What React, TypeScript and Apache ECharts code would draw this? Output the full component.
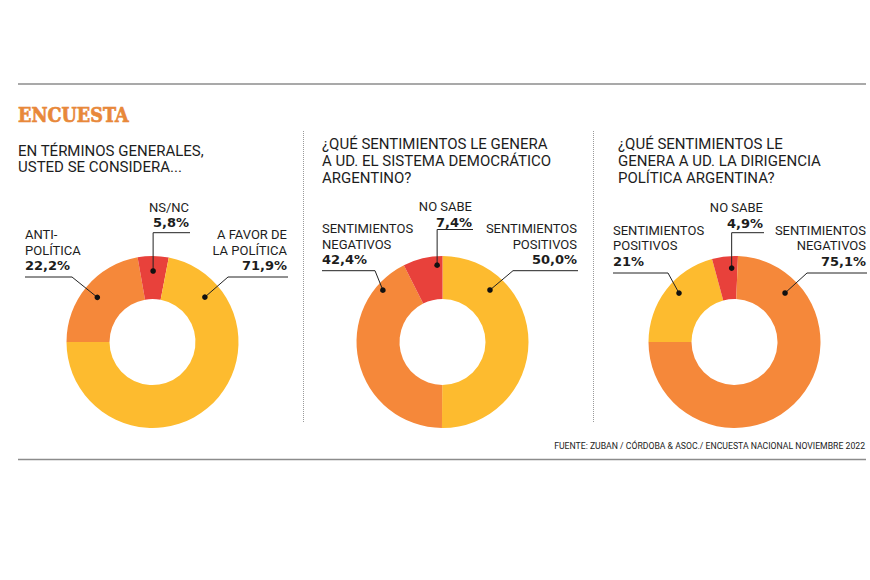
import React, { useEffect, useRef } from "react";
import * as echarts from "echarts";

// ---------- data ----------
const chart1Names = ["ANTI-\nPOLÍTICA", "NS/NC", "A FAVOR DE\nLA POLÍTICA"];
const chart1Values = [22.2, 5.8, 71.9];
const chart1ValueLabels = ["22,2%", "5,8%", "71,9%"];

const chart2Names = ["SENTIMIENTOS\nPOSITIVOS", "SENTIMIENTOS\nNEGATIVOS", "NO SABE"];
const chart2Values = [50.0, 42.4, 7.4];
const chart2ValueLabels = ["50,0%", "42,4%", "7,4%"];

const chart3Names = ["SENTIMIENTOS\nPOSITIVOS", "NO SABE", "SENTIMIENTOS\nNEGATIVOS"];
const chart3Values = [21, 4.9, 75.1];
const chart3ValueLabels = ["21%", "4,9%", "75,1%"];

const titles = [
  "EN TÉRMINOS GENERALES,\nUSTED SE CONSIDERA...",
  "¿QUÉ SENTIMIENTOS LE GENERA\nA UD. EL SISTEMA DEMOCRÁTICO\nARGENTINO?",
  "¿QUÉ SENTIMIENTOS LE\nGENERA A UD. LA DIRIGENCIA\nPOLÍTICA ARGENTINA?",
];
const heading = "ENCUESTA";
const source = "FUENTE: ZUBAN / CÓRDOBA & ASOC./ ENCUESTA NACIONAL NOVIEMBRE 2022";

// ---------- styles ----------
const YELLOW = "#FDBB2F";
const ORANGE = "#F5883A";
const RED = "#E8413B";
const INK = "#1d1d1d";

const chart1Colors = [ORANGE, RED, YELLOW];
const chart2Colors = [YELLOW, ORANGE, RED];
const chart3Colors = [YELLOW, RED, ORANGE];

// ---------- layout ----------
type LabelLayout = {
  align: "left" | "right";
  x: number; // text anchor x
  valueY: number; // center of value line
  lineY: number; // underline y
  inner: number | null; // inner end of underline (elbow); null => vertical drop at dot x
  outer: number; // outer end of underline
  theta: number; // dot angle (deg, clockwise from top)
  r: number; // dot radius from centre
};

const pies = [
  {
    center: [152.5, 342],
    startAngle: 180,
    names: chart1Names,
    values: chart1Values,
    valueLabels: chart1ValueLabels,
    colors: chart1Colors,
    title: { x: 18, y: 142.5, lh: 16.5 },
    labels: [
      { align: "left", x: 25, valueY: 265.5, lineY: 277, inner: 72, outer: 25, theta: 309, r: 71 },
      { align: "right", x: 189, valueY: 222.5, lineY: 232.7, inner: null, outer: 190, theta: 0.5, r: 71 },
      { align: "right", x: 287, valueY: 265.5, lineY: 277, inner: 228, outer: 288, theta: 49.4, r: 69 },
    ] as LabelLayout[],
  },
  {
    center: [442.5, 342],
    startAngle: 90,
    names: chart2Names,
    values: chart2Values,
    valueLabels: chart2ValueLabels,
    colors: chart2Colors,
    title: { x: 322, y: 135, lh: 17 },
    labels: [
      { align: "right", x: 577, valueY: 259.5, lineY: 270.7, inner: 513, outer: 578, theta: 42.4, r: 70.4 },
      { align: "left", x: 322, valueY: 259.5, lineY: 270.7, inner: 375, outer: 322, theta: 311, r: 79 },
      { align: "right", x: 472, valueY: 222, lineY: 229.5, inner: null, outer: 473, theta: 356, r: 77 },
    ] as LabelLayout[],
  },
  {
    center: [734.5, 342],
    startAngle: 180,
    names: chart3Names,
    values: chart3Values,
    valueLabels: chart3ValueLabels,
    colors: chart3Colors,
    title: { x: 618, y: 135, lh: 17 },
    labels: [
      { align: "left", x: 613, valueY: 261, lineY: 273, inner: 668, outer: 613, theta: 311.4, r: 74 },
      { align: "right", x: 763, valueY: 223.3, lineY: 232.7, inner: null, outer: 764, theta: 357.8, r: 74 },
      { align: "right", x: 866, valueY: 261, lineY: 273, inner: 807, outer: 867, theta: 45.9, r: 70.4 },
    ] as LabelLayout[],
  },
];

const LABEL_LH = 15.5;

function buildOption() {
  const series: any[] = pies.map((p) => ({
    type: "pie",
    center: p.center,
    radius: [43, 86],
    startAngle: p.startAngle,
    clockwise: true,
    silent: true,
    avoidLabelOverlap: false,
    label: { show: false },
    labelLine: { show: false },
    emphasis: { disabled: true },
    itemStyle: { borderWidth: 0 },
    data: p.values.map((v, i) => ({
      value: v,
      name: p.names[i].replace("\n", " "),
      itemStyle: { color: p.colors[i] },
    })),
  }));

  const g: any[] = [];
  // rules
  g.push({ type: "line", z: 10, shape: { x1: 18, y1: 84, x2: 866, y2: 84 }, style: { stroke: "#8c8c8c", lineWidth: 1.4 } });
  g.push({ type: "line", z: 10, shape: { x1: 18, y1: 459.5, x2: 866, y2: 459.5 }, style: { stroke: "#8c8c8c", lineWidth: 1.4 } });
  // dotted separators
  [303.5, 593.5].forEach((x) =>
    g.push({
      type: "line",
      z: 10,
      shape: { x1: x, y1: 131, x2: x, y2: 423 },
      style: { stroke: "#9a9a9a", lineWidth: 1, lineDash: [1, 1] },
    })
  );
  // heading
  g.push({
    type: "text",
    z: 10,
    x: 18,
    y: 114.5,
    scaleX: 0.88,
    style: {
      text: heading,
      fontFamily: "DejaVu Serif",
      fontWeight: "bold",
      fontSize: 20,
      fill: "#E8883A",
      stroke: "#E8883A",
      lineWidth: 0.7,
      align: "left",
      verticalAlign: "middle",
    },
  });
  // source
  g.push({
    type: "text",
    z: 10,
    x: 865,
    y: 446,
    scaleX: 0.965,
    style: {
      text: source,
      fontFamily: "Roboto",
      fontSize: 9,
      fill: INK,
      align: "right",
      verticalAlign: "middle",
    },
  });

  pies.forEach((p, pi) => {
    // title
    g.push({
      type: "text",
      z: 10,
      x: p.title.x,
      y: p.title.y,
      style: {
        text: titles[pi],
        fontFamily: "Roboto",
        fontSize: 15,
        lineHeight: p.title.lh,
        fill: INK,
        align: "left",
        verticalAlign: "top",
      },
    });
    const [cx, cy] = p.center;
    p.labels.forEach((L, i) => {
      const t = (L.theta * Math.PI) / 180;
      const dx = cx + L.r * Math.sin(t);
      const dy = cy - L.r * Math.cos(t);
      const nameLines = p.names[i].split("\n").map((s) => `{n|${s}}`);
      const text = [...nameLines, `{v|${p.valueLabels[i]}}`].join("\n");
      g.push({
        type: "text",
        z: 20,
        x: L.x,
        y: L.valueY + LABEL_LH / 2,
        style: {
          text,
          align: L.align,
          verticalAlign: "bottom",
          rich: {
            n: { fontFamily: "Roboto", fontSize: 13, lineHeight: LABEL_LH, fill: INK, align: L.align },
            v: {
              fontFamily: "DejaVu Sans",
              fontWeight: "bold",
              fontSize: 13,
              lineHeight: LABEL_LH,
              fill: INK,
              align: L.align,
            },
          },
        },
      });
      const elbowX = L.inner === null ? dx : L.inner;
      g.push({
        type: "polyline",
        z: 20,
        shape: {
          points: [
            [L.outer, L.lineY],
            [elbowX, L.lineY],
            [dx, dy],
          ],
        },
        style: { stroke: "#222", lineWidth: 1, fill: null },
      });
      g.push({
        type: "circle",
        z: 30,
        shape: { cx: dx, cy: dy, r: 2.8 },
        style: { fill: "#111" },
      });
    });
  });

  return {
    animation: false,
    backgroundColor: "#ffffff",
    series,
    graphic: { elements: g },
  };
}

export default function App() {
  const ref = useRef<HTMLDivElement>(null);
  useEffect(() => {
    document.body.style.margin = "0";
    if (!ref.current) return;
    const chart = echarts.init(ref.current, undefined, { renderer: "svg" });
    chart.setOption(buildOption() as any);
    return () => chart.dispose();
  }, []);
  return <div ref={ref} style={{ width: 870, height: 580 }} />;
}
